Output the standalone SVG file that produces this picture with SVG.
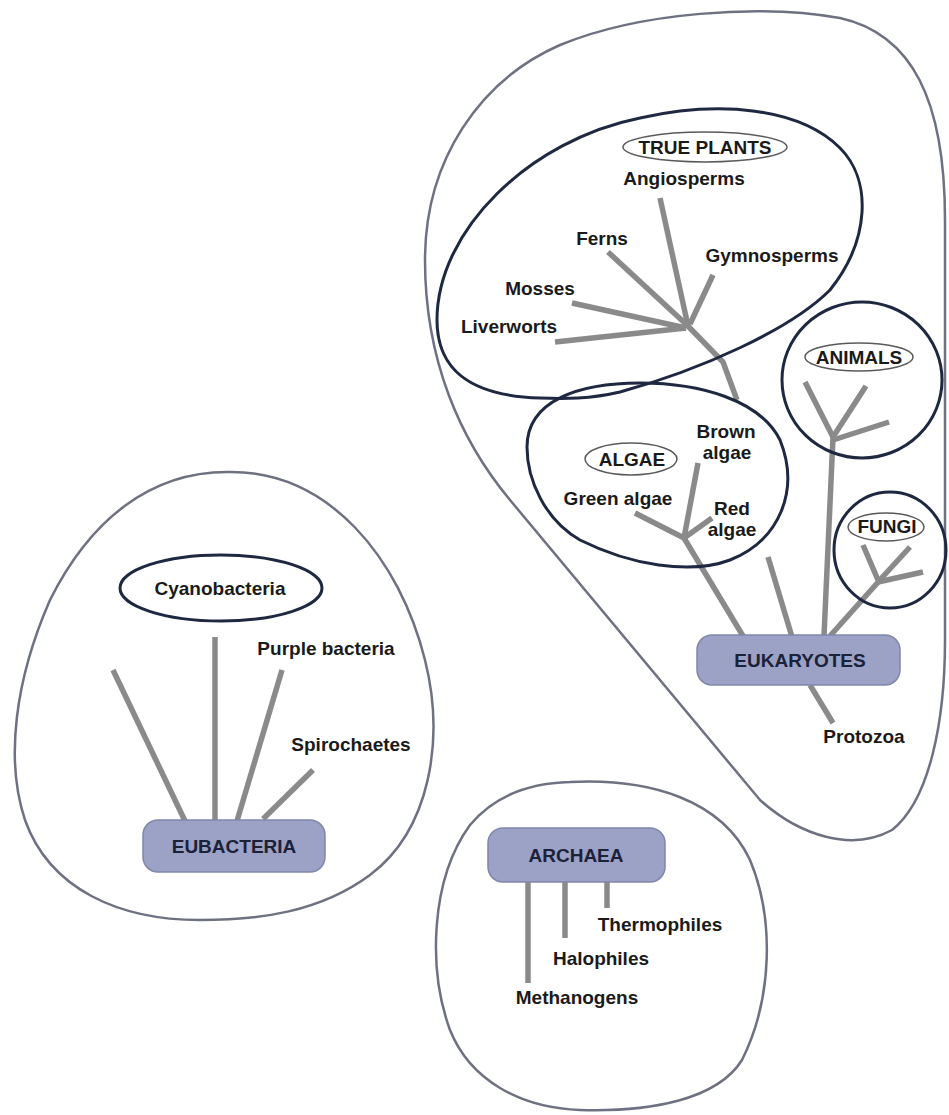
<svg xmlns="http://www.w3.org/2000/svg" width="949" height="1115" viewBox="0 0 949 1115">
<style>
.outer{fill:none;stroke:#6e7181;stroke-width:2.5}
.inner{fill:none;stroke:#1e2840;stroke-width:3}
.tag{fill:none;stroke:#5a5a5a;stroke-width:1.5}
.br{stroke:#8a8a8a;stroke-width:5.5;stroke-linecap:butt;fill:none}
.box{fill:#9ca1c6;stroke:#8087ab;stroke-width:1.5}
text{font-family:"Liberation Sans",Arial,sans-serif;font-weight:bold;font-size:19px;fill:#1a1a1a;text-anchor:middle}
.bt{fill:#1b2238}
</style>
<rect width="949" height="1115" fill="#ffffff"/>
<g id="regions">
<path id="eukaryote-region" class="outer" d="M 510,500 C 460,440 425,360 425,260 C 425,160 480,80 560,45 C 640,12 760,4 840,18 C 912,34 945,100 945,220 L 945,640 C 945,720 930,800 892,830 C 852,852 800,836 760,800 Z"/>
<path id="eubacteria-region" class="outer" d="M 227,472 C 330,470 400,560 425,660 C 445,740 430,830 370,875 C 320,912 260,920 200,920 C 120,920 50,890 25,820 C 5,760 15,680 50,600 C 90,520 150,472 227,472 Z"/>
<path id="archaea-region" class="outer" d="M 570,782 C 650,778 722,800 750,860 C 775,920 772,1000 742,1060 C 717,1100 650,1112 580,1110 C 520,1108 470,1080 450,1030 C 428,970 430,880 470,825 C 495,795 530,783 570,782 Z"/>
</g>
<g id="connectors">
<line class="br" x1="660" y1="198" x2="688" y2="326"/>
<line class="br" x1="608" y1="252" x2="688" y2="326"/>
<line class="br" x1="713" y1="275" x2="690" y2="324"/>
<line class="br" x1="572" y1="303" x2="686" y2="328"/>
<line class="br" x1="555" y1="342" x2="686" y2="328"/>
<polyline class="br" points="686,324 723,362 737,400"/>
<line class="br" x1="698" y1="463" x2="684" y2="538"/>
<line class="br" x1="635" y1="513" x2="684" y2="538"/>
<line class="br" x1="712" y1="518" x2="684" y2="538"/>
<line class="br" x1="684" y1="538" x2="743" y2="636"/>
<line class="br" x1="768" y1="557" x2="792" y2="637"/>
<line class="br" x1="805" y1="382" x2="833" y2="437"/>
<line class="br" x1="866" y1="386" x2="833" y2="437"/>
<line class="br" x1="889" y1="422" x2="833" y2="440"/>
<line class="br" x1="833" y1="437" x2="824" y2="636"/>
<line class="br" x1="863" y1="545" x2="878" y2="580"/>
<line class="br" x1="910" y1="547" x2="878" y2="582"/>
<line class="br" x1="923" y1="572" x2="878" y2="582"/>
<line class="br" x1="880" y1="580" x2="830" y2="636"/>
<line class="br" x1="810" y1="685" x2="833" y2="723"/>
<line class="br" x1="113" y1="670" x2="185" y2="821"/>
<line class="br" x1="215" y1="637" x2="215" y2="821"/>
<line class="br" x1="282" y1="670" x2="237" y2="821"/>
<line class="br" x1="313" y1="770" x2="263" y2="819"/>
<line class="br" x1="528" y1="881" x2="528" y2="983"/>
<line class="br" x1="565" y1="881" x2="565" y2="938"/>
<line class="br" x1="607" y1="881" x2="607" y2="908"/>
</g>
<g id="true-plants">
<path class="inner" d="M 540,398 C 470,396 437,370 437,320 C 437,230 530,140 640,118 C 720,100 800,108 840,148 C 872,180 870,240 830,290 C 790,330 700,370 620,392 C 590,399 565,399 540,398 Z"/>
<ellipse class="tag" cx="705" cy="147" rx="82" ry="15"/>
<text x="705" y="154">TRUE PLANTS</text>
<text x="684" y="185">Angiosperms</text>
<text x="602" y="245">Ferns</text>
<text x="772" y="262">Gymnosperms</text>
<text x="540" y="295">Mosses</text>
<text x="509" y="333">Liverworts</text>
</g>
<g id="algae">
<path class="inner" d="M 527,447 C 527,400 580,383 640,383 C 700,383 760,400 780,440 C 800,490 780,540 730,560 C 690,575 630,565 580,540 C 545,520 527,480 527,447 Z"/>
<ellipse class="tag" cx="631" cy="459" rx="46" ry="16"/>
<text x="632" y="466">ALGAE</text>
<text x="726" y="438">Brown</text>
<text x="727" y="459">algae</text>
<text x="618" y="505">Green algae</text>
<text x="732" y="515">Red</text>
<text x="732" y="536">algae</text>
</g>
<g id="animals">
<ellipse class="inner" cx="862" cy="380" rx="80" ry="78"/>
<ellipse class="tag" cx="859" cy="357" rx="54" ry="14"/>
<text x="859" y="364">ANIMALS</text>
</g>
<g id="fungi">
<ellipse class="inner" cx="890" cy="550" rx="56" ry="58"/>
<ellipse class="tag" cx="886" cy="527" rx="38" ry="14"/>
<text x="887" y="533">FUNGI</text>
</g>
<g id="eukaryotes">
<rect class="box" x="697" y="635" width="203" height="50" rx="15"/>
<text class="bt" x="800" y="667">EUKARYOTES</text>
</g>
<g id="protozoa"><text x="864" y="743">Protozoa</text></g>
<g id="cyanobacteria">
<ellipse class="inner" cx="221" cy="588" rx="101" ry="33"/>
<text x="220" y="595">Cyanobacteria</text>
</g>
<g id="purple-bacteria"><text x="326" y="655">Purple bacteria</text></g>
<g id="spirochaetes"><text x="351" y="751">Spirochaetes</text></g>
<g id="eubacteria">
<rect class="box" x="143" y="820" width="182" height="52" rx="15"/>
<text class="bt" x="234" y="853">EUBACTERIA</text>
</g>
<g id="archaea">
<rect class="box" x="488" y="828" width="177" height="54" rx="15"/>
<text class="bt" x="576" y="862">ARCHAEA</text>
</g>
<g id="thermophiles"><text x="660" y="931">Thermophiles</text></g>
<g id="halophiles"><text x="601" y="965">Halophiles</text></g>
<g id="methanogens"><text x="577" y="1004">Methanogens</text></g>
</svg>
